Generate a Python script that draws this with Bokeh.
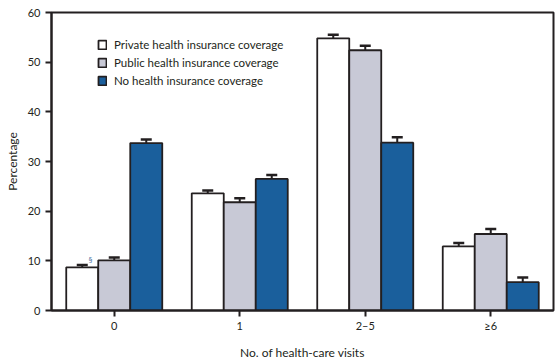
from bokeh.plotting import figure
from bokeh.models import ColumnDataSource, FactorRange, Whisker, TeeHead, Legend, LegendItem, FixedTicker
from bokeh.transform import dodge
from bokeh.core.properties import value
from bokeh.embed import file_html
from bokeh.resources import INLINE

categories = ["0", "1", "2\u20135", "\u22656"]
series_names = ["Private health insurance coverage", "Public health insurance coverage", "No health insurance coverage"]
private_vals = [8.7, 23.6, 54.8, 12.9]
private_err = [0.45, 0.55, 0.7, 0.7]
public_vals = [10.1, 21.8, 52.4, 15.4]
public_err = [0.55, 0.8, 0.9, 1.0]
none_vals = [33.7, 26.5, 33.8, 5.7]
none_err = [0.75, 0.8, 1.1, 0.95]

colors = ["#ffffff", "#c8c9d6", "#1a5f9c"]
dark = "#231f20"
FONT = "Lato"

p = figure(x_range=FactorRange(*categories, range_padding=0), y_range=(0, 60),
           frame_width=502, frame_height=298, min_border_left=51, min_border_right=3,
           min_border_top=12, min_border_bottom=50,
           output_backend="svg", toolbar_location=None)

bw = 0.255
offsets = [-bw, 0.0, bw]
vals = [private_vals, public_vals, none_vals]
errs = [private_err, public_err, none_err]
renderers = []
for i in range(3):
    src = ColumnDataSource(dict(cat=categories, top=vals[i],
                                upper=[v + e for v, e in zip(vals[i], errs[i])],
                                lower=[v - e for v, e in zip(vals[i], errs[i])]))
    r = p.vbar(x=dodge("cat", offsets[i], range=p.x_range), top="top", width=bw, source=src,
               fill_color=colors[i], line_color=dark, line_width=1.8)
    renderers.append(r)
    w = Whisker(base=dodge("cat", offsets[i], range=p.x_range), upper="upper", lower="lower", source=src,
                line_color=dark, line_width=2,
                upper_head=TeeHead(size=11, line_color=dark, line_width=2.5),
                lower_head=TeeHead(size=11, line_color=dark, line_width=2.5))
    p.add_layout(w)

# footnote marker
msrc = ColumnDataSource(dict(cat=["0"], y=[10.2], t=["\u00a7"]))
p.text(x=dodge("cat", -0.19, range=p.x_range), y="y", text="t", source=msrc,
       text_font=value(FONT), text_font_size="8px", text_color="#4a6fa0",
       text_align="center", text_baseline="middle")

legend = Legend(items=[LegendItem(label=series_names[i], renderers=[renderers[i]]) for i in range(3)])
legend.location = (46, 223)
legend.background_fill_alpha = 0
legend.border_line_alpha = 0
legend.label_text_font = FONT
legend.label_text_font_size = "11.5px"
legend.label_text_color = dark
legend.glyph_width = 10
legend.glyph_height = 11
legend.label_standoff = 7
legend.spacing = 5
legend.padding = 0
legend.margin = 0
legend.label_height = 11
p.add_layout(legend)

p.xgrid.visible = False
p.ygrid.visible = False
p.outline_line_color = dark
p.outline_line_width = 2

for ax in (p.xaxis, p.yaxis):
    ax.axis_line_color = dark
    ax.axis_line_width = 2
    ax.major_tick_line_color = dark
    ax.major_tick_line_width = 2
    ax.minor_tick_line_color = None
    ax.major_label_text_font = FONT
    ax.major_label_text_font_size = "11px"
    ax.major_label_text_color = dark
    ax.axis_label_text_font = FONT
    ax.axis_label_text_font_size = "12px"
    ax.axis_label_text_font_style = "normal"
    ax.axis_label_text_color = dark

p.yaxis.ticker = FixedTicker(ticks=[0, 10, 20, 30, 40, 50, 60])
p.yaxis.major_tick_out = 6
p.yaxis.major_tick_in = 0
p.yaxis.major_label_standoff = 5
p.yaxis.axis_label = "Percentage"
p.yaxis.axis_label_standoff = 5

p.xaxis.major_tick_out = 6
p.xaxis.major_tick_in = 0
p.xaxis.major_label_standoff = 2
p.xaxis.axis_label = "No. of health-care visits"
p.xaxis.axis_label_standoff = 10

open("out.html", "w").write(file_html(p, INLINE))
